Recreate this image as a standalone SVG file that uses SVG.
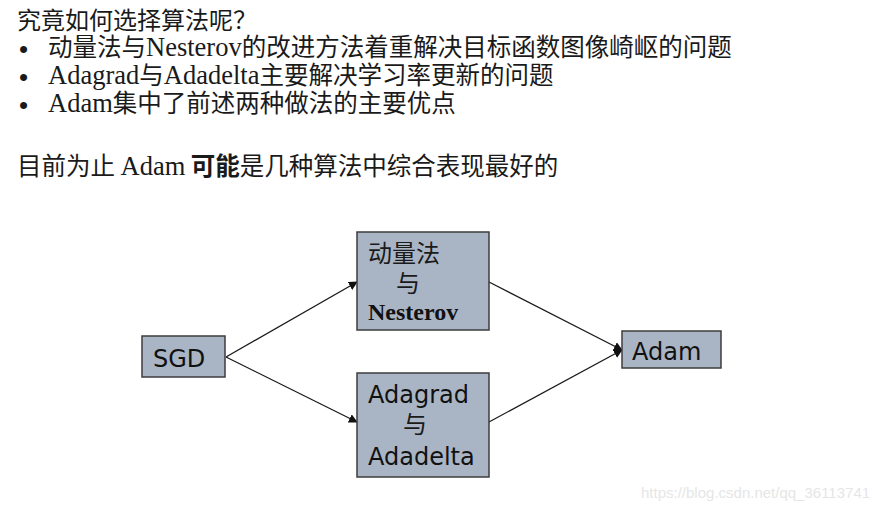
<svg xmlns="http://www.w3.org/2000/svg" width="892" height="510" viewBox="0 0 892 510">
<style>
.cjk{font-family:"Noto Sans CJK SC","DejaVu Sans",sans-serif;fill:#1a1a1a}
.ser{font-family:"Liberation Serif","Noto Sans CJK SC",serif}
.bul{font-family:"Liberation Sans",sans-serif;font-size:26px;fill:#1a1a1a}
.box{fill:#a9b5c5;stroke:#3c3c3c;stroke-width:1.5}
.lbl{font-family:"DejaVu Sans","Noto Sans CJK SC",sans-serif;font-size:24px;fill:#111}
.edge{stroke:#1a1a1a;stroke-width:1.3;fill:none;marker-end:url(#ah)}
</style>
<defs>
<marker id="ah" viewBox="0 0 10 10" refX="9" refY="5" markerWidth="9" markerHeight="9" markerUnits="userSpaceOnUse" orient="auto">
<path d="M0,0 L10,5 L0,10 Z" fill="#111"/>
</marker>
</defs>
<rect width="892" height="510" fill="#ffffff"/>
<g id="text-block">
<text class="cjk" x="17" y="29" font-size="24">究竟如何选择算法呢？</text>
<text class="bul" x="19" y="58">•</text>
<text class="cjk" x="48" y="56" font-size="24.5">动量法与<tspan class="ser" font-size="26.5">Nesterov</tspan>的改进方法着重解决目标函数图像崎岖的问题</text>
<text class="bul" x="19" y="86">•</text>
<text class="cjk" x="48" y="84" font-size="24.5"><tspan class="ser" font-size="26.5">Adagrad</tspan>与<tspan class="ser" font-size="26.5">Adadelta</tspan>主要解决学习率更新的问题</text>
<text class="bul" x="19" y="114">•</text>
<text class="cjk" x="48" y="112" font-size="24.5"><tspan class="ser" font-size="26.5">Adam</tspan>集中了前述两种做法的主要优点</text>
<text class="cjk" x="17" y="175" font-size="24.5">目前为止 <tspan class="ser" font-size="26.5">Adam</tspan> <tspan font-weight="bold">可能</tspan>是几种算法中综合表现最好的</text>
</g>
<g id="connectors">
<line class="edge" x1="226" y1="357" x2="357" y2="282"/>
<line class="edge" x1="226" y1="357" x2="357" y2="422"/>
<line class="edge" x1="489" y1="282" x2="622" y2="350"/>
<line class="edge" x1="489" y1="422" x2="622" y2="350"/>
</g>
<g id="node-sgd">
<rect class="box" x="142" y="336" width="83" height="41"/>
<text class="lbl" x="153" y="367">SGD</text>
</g>
<g id="node-momentum">
<rect class="box" x="357" y="232" width="132" height="98"/>
<text class="cjk" x="368" y="262" font-size="24">动量法</text>
<text class="cjk" x="396" y="292" font-size="24">与</text>
<text class="ser" x="368" y="320" font-size="24" font-weight="bold" fill="#111">Nesterov</text>
</g>
<g id="node-adagrad">
<rect class="box" x="357" y="373" width="132" height="104"/>
<text class="lbl" x="368" y="403">Adagrad</text>
<text class="cjk" x="403" y="433" font-size="24">与</text>
<text class="lbl" x="368" y="465">Adadelta</text>
</g>
<g id="node-adam">
<rect class="box" x="622" y="331" width="99" height="37"/>
<text class="lbl" x="632" y="360">Adam</text>
</g>
<text x="641" y="498" font-family="'Liberation Sans',sans-serif" font-size="15" fill="#e6e6e6">https://blog.csdn.net/qq_36113741</text>
</svg>
